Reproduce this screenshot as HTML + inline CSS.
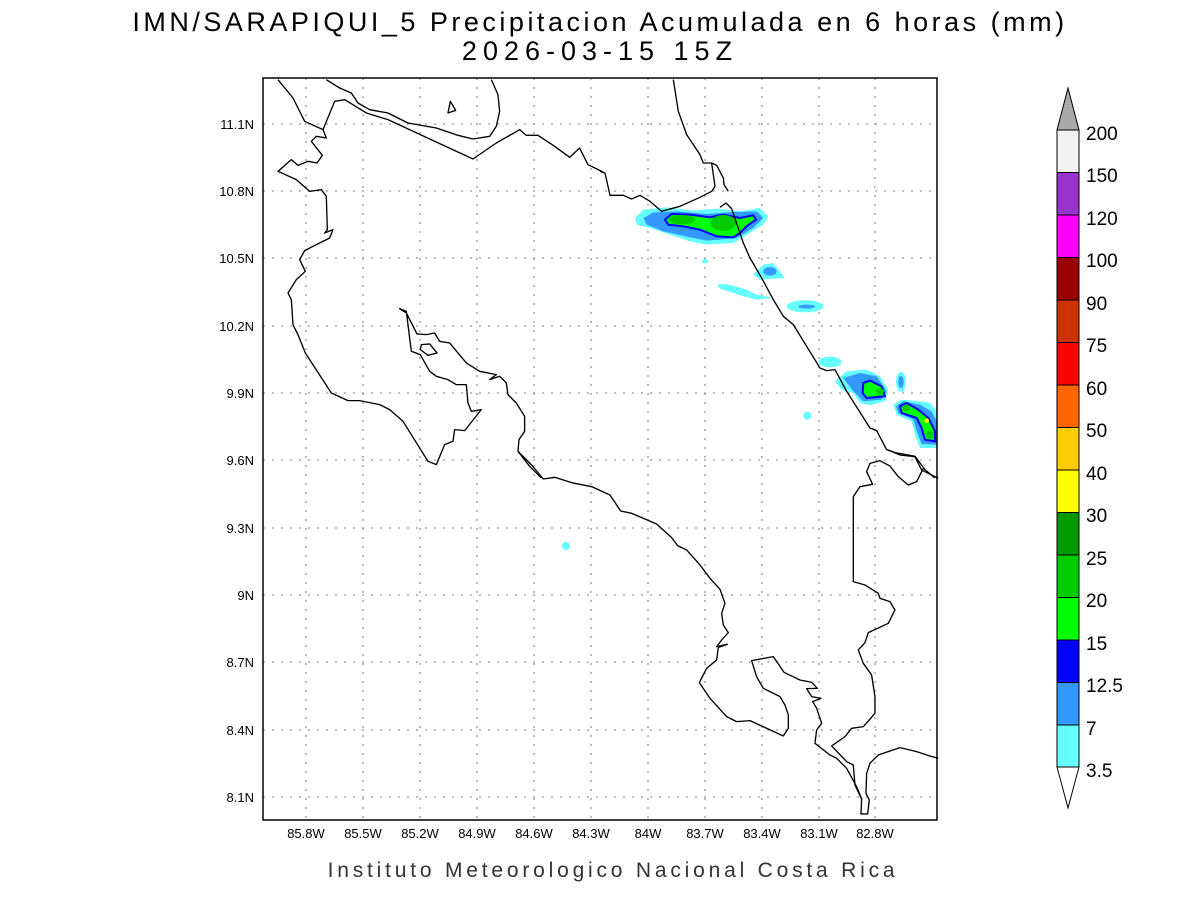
<!DOCTYPE html>
<html><head><meta charset="utf-8"><style>
html,body{margin:0;padding:0;background:#fff;}
svg{display:block;}
text{font-family:"Liberation Sans",sans-serif;fill:#000;}
</style></head><body>
<svg width="1200" height="900" viewBox="0 0 1200 900" xmlns="http://www.w3.org/2000/svg">
<rect width="1200" height="900" fill="#fff"/>
<text x="600" y="31" font-size="27" text-anchor="middle" letter-spacing="3.5">IMN/SARAPIQUI_5 Precipitacion Acumulada en 6 horas (mm)</text>
<text x="600" y="60" font-size="27" text-anchor="middle" letter-spacing="6">2026-03-15 15Z</text>

<g stroke="#999" stroke-width="1.3" stroke-dasharray="2,7" fill="none">
<path d="M306 78V820M363 78V820M420 78V820M477 78V820M534 78V820M591 78V820M648 78V820M705 78V820M762 78V820M819 78V820M875 78V820"/>
<path d="M263 124H937M263 191H937M263 258H937M263 326H937M263 393H937M263 460H937M263 528H937M263 595H937M263 662H937M263 730H937M263 797H937"/>
</g>

<g transform="translate(600,78) scale(0.3333)">
<path fill="#66ffff" d="M105 420L130 395L200 388L280 398L350 392L420 400L480 390L505 415L490 440L450 465L400 495L320 500L270 490L210 470L150 450L110 440Z"/>
<path fill="#3399ff" d="M130 420L160 403L230 400L320 408L400 402L470 400L490 420L460 450L410 480L320 488L270 478L190 460L140 440Z"/>
<path fill="#00ff00" stroke="#0000ff" stroke-width="6" d="M195 425L215 408L270 410L330 418L370 410L420 420L460 412L468 425L440 445L420 465L400 478L350 475L300 455L250 445L205 440Z"/>
<ellipse cx="245" cy="425" rx="40" ry="14" fill="#00cc00"/>
<ellipse cx="370" cy="435" rx="38" ry="24" fill="#00cc00"/>
<ellipse cx="315" cy="550" rx="10" ry="6" fill="#66ffff"/>
<path fill="#66ffff" d="M460 590L490 560L520 555L555 600L480 605Z"/>
<ellipse cx="510" cy="580" rx="20" ry="13" fill="#3399ff"/>
<path fill="#66ffff" d="M350 620L380 618L440 635L470 650L520 660L470 665L430 655L360 632Z"/>
<ellipse cx="615" cy="685" rx="55" ry="18" fill="#66ffff"/>
<ellipse cx="620" cy="686" rx="25" ry="6" fill="#3399ff"/>
<ellipse cx="690" cy="852" rx="35" ry="16" fill="#66ffff"/>
<path fill="#66ffff" d="M705 910L740 880L800 875L840 895L865 935L855 970L810 982L780 975L760 945L725 935Z"/>
<path fill="#3399ff" d="M730 900L780 885L830 895L860 940L845 965L790 970L760 940Z"/>
<path fill="#00ff00" stroke="#0000ff" stroke-width="6" d="M790 915L810 908L845 925L855 955L800 960L788 945Z"/>
<ellipse cx="840" cy="940" rx="12" ry="10" fill="#00cc00"/>
<ellipse cx="903" cy="912" rx="15" ry="30" fill="#66ffff"/>
<ellipse cx="903" cy="912" rx="8" ry="18" fill="#3399ff"/>
<ellipse cx="622" cy="1013" rx="12" ry="12" fill="#66ffff"/>
<path fill="#66ffff" d="M880 980L905 965L960 970L990 975L1010 1000L1010 1110L960 1110L945 1070L935 1030L890 1010Z"/>
<path fill="#3399ff" d="M888 985L910 970L960 980L995 1000L1010 1030L1010 1100L965 1098L950 1060L940 1025L895 1005Z"/>
<path fill="#00ff00" stroke="#0000ff" stroke-width="6" d="M900 985L920 975L955 995L985 1020L1005 1060L1005 1090L975 1085L965 1050L950 1020L905 1005Z"/>
<ellipse cx="918" cy="990" rx="12" ry="10" fill="#00cc00"/>
<ellipse cx="990" cy="1070" rx="12" ry="12" fill="#00cc00"/>
<circle cx="980" cy="1028" r="7" fill="#ffff00"/>
</g>
<ellipse cx="566" cy="546" rx="4" ry="4" fill="#66ffff"/>

<g fill="none" stroke="#000" stroke-width="4" stroke-linejoin="round">
<g transform="translate(263,78) scale(0.3333)">
<path d="M190 5L230 30L265 45L285 75L320 95L375 105L435 135L520 150L585 172L630 183L680 175L700 145L710 100L705 50L685 5"/>
<path d="M180 155L215 70L245 65L270 80L310 105L375 125L630 243L700 195L770 155L790 172L825 172L875 205L920 238L950 210L975 260L1020 282"/>
<path d="M45 5L90 60L125 130L180 155L190 180L160 175L145 190L178 232L162 255L135 250L105 262L85 245L45 280L100 305L140 340L175 335L190 355L193 455L185 465L210 455L200 480L160 500L125 518L110 545L127 580L100 605L75 645L85 665L90 740L105 770L127 825L205 945L255 968L290 968L350 980L380 995L420 1030L495 1150L520 1160L545 1100L570 1090L575 1055L605 1058L655 995L625 1000L615 975L610 920L580 920L555 905L520 895L500 880L472 830L445 820L430 700L410 692L430 705L462 768L490 770L515 765L530 790L560 795L610 855L650 880L700 890L680 905L710 895L730 915L735 950L760 975L785 1015L785 1060L768 1085L765 1120L800 1165L835 1200"/>
<path d="M555 105L562 70L578 97Z"/>
<path d="M475 800L500 798L522 825L495 832L472 815Z"/>
</g>
<g transform="translate(600,78) scale(0.3333)">
<path d="M0 280L15 285L30 352L70 352L95 363L120 352L150 370L185 400L240 385L300 358L335 340L345 325L335 255L310 255L300 230L260 170L235 100L220 5"/>
<path d="M335 255L350 262L370 300L372 320L385 340"/>
<path d="M360 388L378 375L395 392L430 495L450 540L485 600L520 665L550 715L580 740L620 805L660 870L680 878L705 875L740 940L810 1050L830 1058L860 1115L890 1125L945 1135L975 1175L1005 1200"/>
</g>
<g transform="translate(500,450) scale(0.3333)">
<path d="M55 5L95 45L130 87L165 82L215 98L275 110L330 135L362 183L395 190L470 222L515 263L533 287L560 300L600 345L630 385L660 418L675 460L665 490L670 525L685 548L665 570L650 590L682 583L655 592L650 630L620 655L598 698L630 745L680 800L710 815L750 812L850 858L865 835L865 795L855 765L840 740L790 715L770 680L755 632L820 620L852 667L900 690L935 697L952 715L920 716L935 740L963 745L938 755L950 775L965 820L950 840L945 880L990 915L1010 925L1040 955L1070 1010L1085 1047L1083 1092L1103 1092L1108 1050L1098 1030L1100 970L1110 940L1135 915L1200 893L1250 905L1290 918L1315 925"/>
<path d="M1315 85L1265 60L1245 20L1200 15L1165 0"/>
<path d="M1270 55L1250 95L1225 105L1195 80L1170 48L1140 32L1110 40L1100 65L1118 103L1080 110L1060 140L1060 395L1095 405L1135 430L1140 445L1170 455L1185 480L1165 520L1105 548L1095 578L1075 600L1090 640L1115 675L1125 740L1125 790L1090 830L1055 835L1035 860L995 888L1040 935L1060 945L1065 1005L1085 1047"/>
</g>
</g>

<rect x="263" y="78" width="674" height="742" fill="none" stroke="#000" stroke-width="1.5"/>

<g font-size="13" text-anchor="middle">
<text x="306" y="838">85.8W</text><text x="363" y="838">85.5W</text><text x="420" y="838">85.2W</text><text x="477" y="838">84.9W</text><text x="534" y="838">84.6W</text><text x="591" y="838">84.3W</text><text x="648" y="838">84W</text><text x="705" y="838">83.7W</text><text x="762" y="838">83.4W</text><text x="819" y="838">83.1W</text><text x="875" y="838">82.8W</text>
</g>
<g font-size="13" text-anchor="end">
<text x="254" y="129">11.1N</text><text x="254" y="196">10.8N</text><text x="254" y="263">10.5N</text><text x="254" y="331">10.2N</text><text x="254" y="398">9.9N</text><text x="254" y="465">9.6N</text><text x="254" y="533">9.3N</text><text x="254" y="600">9N</text><text x="254" y="667">8.7N</text><text x="254" y="735">8.4N</text><text x="254" y="802">8.1N</text>
</g>
<text x="613" y="877" font-size="21" text-anchor="middle" letter-spacing="3.8" style="fill:#333">Instituto Meteorologico Nacional Costa Rica</text>

<g stroke="#000" stroke-width="1">
<path d="M1057 130L1068 88L1079 130Z" fill="#aaaaaa"/>
<rect x="1057" y="130" width="22" height="42.5" fill="#f2f2f2"/>
<rect x="1057" y="172.5" width="22" height="42.5" fill="#9933cc"/>
<rect x="1057" y="215" width="22" height="42.5" fill="#ff00ff"/>
<rect x="1057" y="257.5" width="22" height="42.5" fill="#990000"/>
<rect x="1057" y="300" width="22" height="42.5" fill="#cc3300"/>
<rect x="1057" y="342.5" width="22" height="42.5" fill="#ff0000"/>
<rect x="1057" y="385" width="22" height="42.5" fill="#ff6600"/>
<rect x="1057" y="427.5" width="22" height="42.5" fill="#ffcc00"/>
<rect x="1057" y="470" width="22" height="42.5" fill="#ffff00"/>
<rect x="1057" y="512.5" width="22" height="42.5" fill="#009900"/>
<rect x="1057" y="555" width="22" height="42.5" fill="#00cc00"/>
<rect x="1057" y="597.5" width="22" height="42.5" fill="#00ff00"/>
<rect x="1057" y="640" width="22" height="42.5" fill="#0000ff"/>
<rect x="1057" y="682.5" width="22" height="42.5" fill="#3399ff"/>
<rect x="1057" y="725" width="22" height="42" fill="#66ffff"/>
<path d="M1057 767L1068 808L1079 767Z" fill="#fff"/>
</g>
<g font-size="19">
<text x="1086" y="140">200</text><text x="1086" y="182">150</text><text x="1086" y="225">120</text><text x="1086" y="267">100</text><text x="1086" y="310">90</text><text x="1086" y="352">75</text><text x="1086" y="395">60</text><text x="1086" y="437">50</text><text x="1086" y="480">40</text><text x="1086" y="522">30</text><text x="1086" y="565">25</text><text x="1086" y="607">20</text><text x="1086" y="650">15</text><text x="1086" y="692">12.5</text><text x="1086" y="735">7</text><text x="1086" y="777">3.5</text>
</g>
</svg>
</body></html>
